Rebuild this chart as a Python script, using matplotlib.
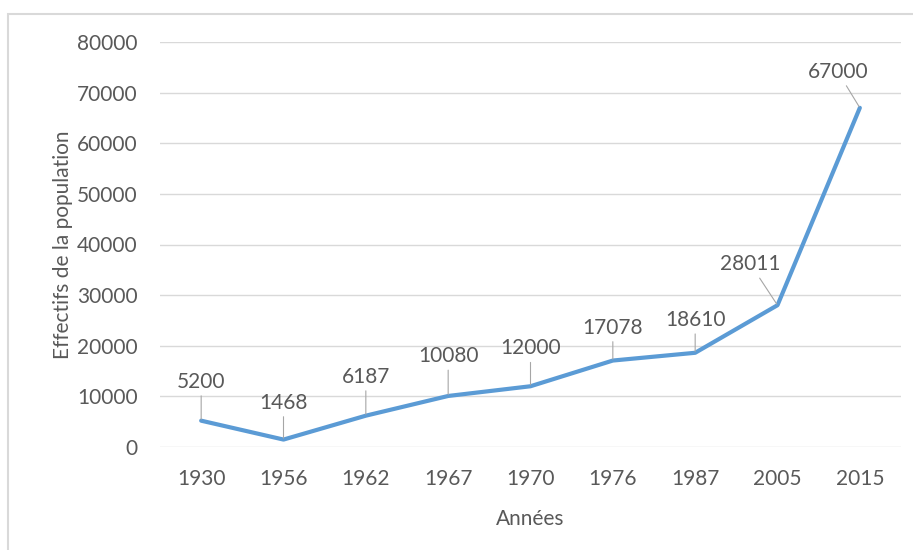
import matplotlib.pyplot as plt
from matplotlib.patches import Rectangle

years = ['1930', '1956', '1962', '1967', '1970', '1976', '1987', '2005', '2015']
population = [5200, 1468, 6187, 10080, 12000, 17078, 18610, 28011, 67000]
# label offsets in pixels (dx, dy) from each point
label_offsets = [(0, 39), (0, 37), (0, 39), (0, 40), (0, 38), (0, 33), (0, 33), (-27, 41), (-22, 36)]

text_color = '#595959'
plt.rcParams['font.family'] = ['Lato', 'DejaVu Sans']

fig = plt.figure(figsize=(9.13, 5.5), dpi=100)
ax = fig.add_axes([160 / 913, 1 - 447 / 550, 741 / 913, 405 / 550])

# chart border (only top and left visible in the crop)
fig.patches.append(Rectangle((8 / 913, -0.1), 1.2, 1 - 14 / 550 + 0.1,
                             transform=fig.transFigure, fill=False,
                             edgecolor='#D9D9D9', lw=1.5))

x = list(range(len(years)))
ax.plot(x, population, color='#5B9BD5', lw=3, solid_capstyle='round', solid_joinstyle='round')

for xi, yi, (dx, dy) in zip(x, population, label_offsets):
    ax.annotate(f'{yi}', (xi, yi), xytext=(dx, dy), textcoords='offset pixels',
                ha='center', va='center', fontsize=15, color=text_color,
                arrowprops=dict(arrowstyle='-', color='#A6A6A6', lw=0.8,
                                shrinkA=1, shrinkB=1))

ax.set_xlim(-0.5, len(years) - 0.5)
ax.set_ylim(0, 80000)
ax.set_yticks(range(0, 80001, 10000))
ax.set_xticks(x)
ax.set_xticklabels(years)
ax.grid(axis='y', color='#D9D9D9', lw=1)
ax.set_axisbelow(True)
for s in ax.spines.values():
    s.set_visible(False)
ax.tick_params(length=0, labelsize=15, labelcolor=text_color)
ax.tick_params(axis='y', pad=16)
ax.tick_params(axis='x', pad=16)

ax.set_xlabel('Années', fontsize=15, color=text_color, labelpad=14)
ax.set_ylabel('Effectifs de la population', fontsize=15, color=text_color, labelpad=3)

fig.savefig('out.png', dpi=100)
